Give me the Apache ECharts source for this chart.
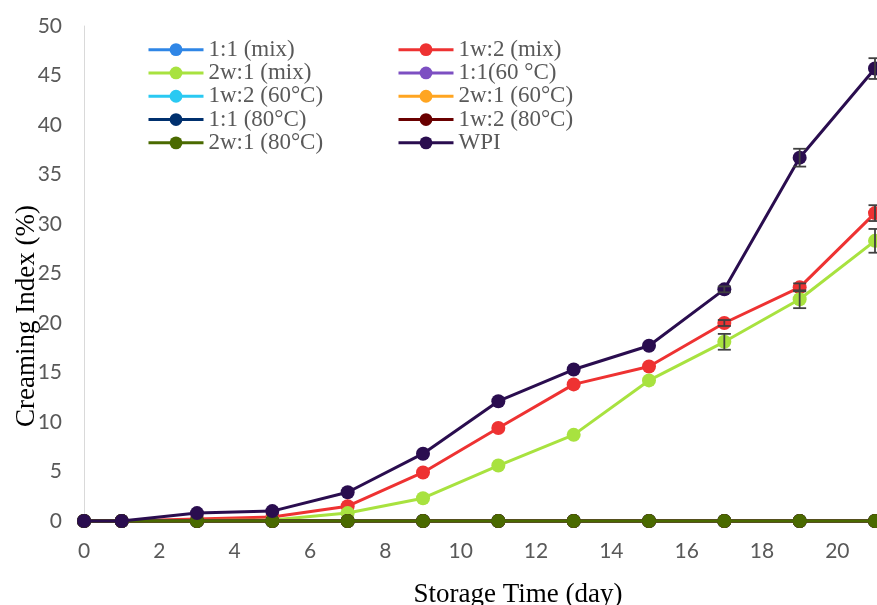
<!DOCTYPE html>
<html>
<head>
<meta charset="utf-8">
<script src="https://cdn.jsdelivr.net/npm/echarts@6/dist/echarts.min.js"></script>
<style>
  html, body { margin: 0; padding: 0; background: #fff; }
  #chart { width: 877px; height: 605px; }
</style>
</head>
<body>
<div id="chart"></div>
<script>
const days = [0, 1, 3, 5, 7, 9, 11, 13, 15, 17, 19, 21];

const zeros     = [0, 0, 0, 0, 0, 0, 0, 0, 0, 0, 0, 0];
const mix11     = zeros;
const mix12     = [0, 0, 0.2, 0.4, 1.5, 4.9, 9.4, 13.8, 15.6, 20.0, 23.6, 31.1];
const mix21     = [0, 0, 0.05, 0.1, 0.8, 2.3, 5.6, 8.7, 14.2, 18.1, 22.4, 28.3];
const h60_11    = zeros;
const h60_12    = zeros;
const h60_21    = zeros;
const h80_11    = zeros;
const h80_12    = zeros;
const h80_21    = zeros;
const wpi       = [0, 0, 0.8, 1.0, 2.9, 6.8, 12.1, 15.3, 17.7, 23.4, 36.7, 45.7];

// standard deviations (only the visible ones)
const mix12Err  = [0, 0, 0, 0, 0, 0, 0, 0, 0, 0.3, 0.4, 0.8];
const mix21Err  = [0, 0, 0, 0, 0, 0, 0, 0, 0, 0.8, 0.9, 1.2];
const wpiErr    = [0, 0, 0, 0, 0, 0, 0, 0, 0, 0.3, 0.9, 1.05];

const names  = ["1:1 (mix)", "1w:2 (mix)", "2w:1 (mix)", "1:1(60 °C)", "1w:2 (60°C)",
                "2w:1 (60°C)", "1:1 (80°C)", "1w:2 (80°C)", "2w:1 (80°C)", "WPI"];
const values = [mix11, mix12, mix21, h60_11, h60_12, h60_21, h80_11, h80_12, h80_21, wpi];
const colors = ["#2f86e6", "#ee3232", "#a8e23f", "#7d4fc2", "#2ac9f2",
                "#ffa521", "#00306e", "#6a0000", "#4a6a00", "#2a0d4f"];

const leftCol  = [names[0], names[2], names[4], names[6], names[8]];
const rightCol = [names[1], names[3], names[5], names[7], names[9]];

const serif = "'Liberation Serif', 'Times New Roman', serif";
const sans  = "Lato, 'Open Sans', sans-serif";

const lineSeries = names.map((n, i) => ({
  name: n, type: "line",
  data: days.map((d, j) => [d, values[i][j]]),
  symbol: "circle", symbolSize: 14,
  lineStyle: { width: 3, color: colors[i] },
  itemStyle: { color: colors[i] },
  clip: false, animation: false, z: 2 + i,
}));

function errSeries(vals, errs) {
  return {
    type: "custom", silent: true, animation: false, z: 20,
    data: days.map((d, j) => [d, vals[j] - errs[j], vals[j] + errs[j]]).filter((r, j) => errs[j] > 0),
    renderItem: (params, api) => {
      const lo = api.coord([api.value(0), api.value(1)]);
      const hi = api.coord([api.value(0), api.value(2)]);
      const w = 6.5;
      const st = { stroke: "#404040", lineWidth: 1.8 };
      return { type: "group", children: [
        { type: "line", shape: { x1: lo[0], y1: lo[1], x2: hi[0], y2: hi[1] }, style: st },
        { type: "line", shape: { x1: lo[0] - w, y1: lo[1], x2: lo[0] + w, y2: lo[1] }, style: st },
        { type: "line", shape: { x1: hi[0] - w, y1: hi[1], x2: hi[0] + w, y2: hi[1] }, style: st },
      ]};
    },
  };
}

const legendBase = {
  orient: "vertical", top: 38, padding: 0,
  itemWidth: 55, itemHeight: 16, itemGap: 0,
  lineStyle: { width: 3 },
  textStyle: { fontFamily: serif, fontSize: 23, lineHeight: 23.3, color: "#595959" },
};

const chart = echarts.init(document.getElementById("chart"));
chart.setOption({
  backgroundColor: "#fff",
  animation: false,
  legend: [
    { ...legendBase, left: 147, data: leftCol },
    { ...legendBase, left: 397, data: rightCol },
  ],
  grid: { left: 84, right: 2, top: 26, bottom: 84, containLabel: false, outerBoundsMode: "none" },
  xAxis: {
    type: "value", min: 0, max: 21, interval: 2,
    name: "Storage Time (day)", nameLocation: "middle", nameGap: 60, nameMoveOverlap: false,
    nameTextStyle: { fontFamily: serif, fontSize: 27, color: "#000", padding: [0, 0, 0, 77] },
    axisLine: { show: true, lineStyle: { color: "#d9d9d9", width: 1 } },
    axisTick: { show: false },
    splitLine: { show: false },
    axisLabel: { fontFamily: sans, fontSize: 21, color: "#595959", margin: 20, showMaxLabel: false },
  },
  yAxis: {
    type: "value", min: 0, max: 50, interval: 5,
    name: "Creaming Index (%)", nameLocation: "middle", nameGap: 44, nameMoveOverlap: false,
    nameTextStyle: { fontFamily: serif, fontSize: 27, color: "#000", padding: [0, 85, 0, 0] },
    axisLine: { show: true, lineStyle: { color: "#d9d9d9", width: 1 } },
    axisTick: { show: false },
    splitLine: { show: false },
    axisLabel: { fontFamily: sans, fontSize: 21, color: "#595959", margin: 22 },
  },
  series: [
    ...lineSeries,
    errSeries(mix12, mix12Err),
    errSeries(mix21, mix21Err),
    errSeries(wpi, wpiErr),
  ],
});
</script>
</body>
</html>
